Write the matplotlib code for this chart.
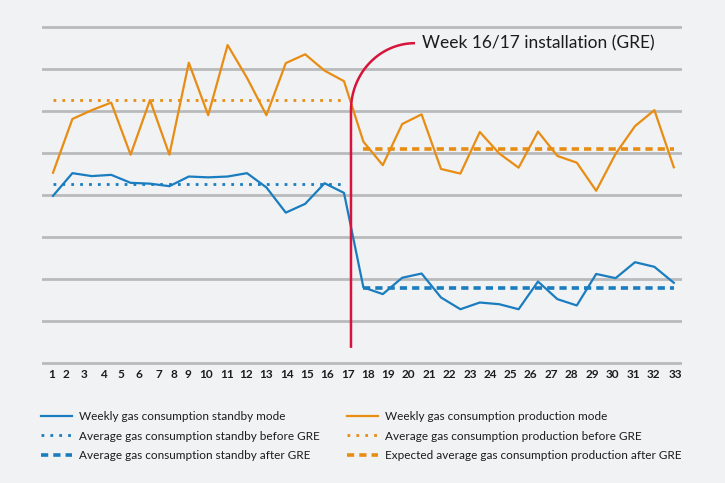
import numpy as np
import matplotlib
matplotlib.use("Agg")
import matplotlib.pyplot as plt
from matplotlib.lines import Line2D

# ---- data ----
weeks = list(range(1, 34))
standby = [3.98, 4.52, 4.45, 4.48, 4.29, 4.27, 4.21, 4.44, 4.42, 4.44, 4.52, 4.18,
           3.58, 3.79, 4.28, 4.05, 1.80, 1.64, 2.03, 2.13, 1.56, 1.28, 1.44, 1.40,
           1.28, 1.94, 1.52, 1.37, 2.12, 2.02, 2.40, 2.29, 1.91]
production = [4.53, 5.81, 6.02, 6.20, 4.96, 6.26, 4.96, 7.15, 5.90, 7.57, 6.79, 5.90,
              7.14, 7.35, 6.96, 6.71, 5.27, 4.71, 5.69, 5.92, 4.62, 4.51, 5.50, 4.99,
              4.65, 5.51, 4.93, 4.77, 4.10, 4.98, 5.64, 6.02, 4.66]
avg_standby_before = 4.25
avg_standby_after = 1.78
avg_prod_before = 6.26
avg_prod_after = 5.09
tick_labels = [str(w) for w in weeks]
annotation = "Week 16/17 installation (GRE)"
legend_labels = ["Weekly gas consumption standby mode",
                 "Average gas consumption standby before GRE",
                 "Average gas consumption standby after GRE",
                 "Weekly gas consumption production mode",
                 "Average gas consumption production before GRE",
                 "Expected average gas consumption production after GRE"]

# ---- style ----
BG = "#f1f2f4"
BLUE = "#1a7dbf"
ORANGE = "#e88d14"
RED = "#d8143c"
GRID = "#b9babc"
TXT = "#1c1c1c"
plt.rcParams['font.family'] = ['Lato', 'DejaVu Sans']

W, H = 725, 483
fig = plt.figure(figsize=(W / 100, H / 100), dpi=100, facecolor=BG)

# axes placement (pixels)
px_left, px_right = 41.7, 681.7
ymin, ymax = -0.1, 8.1
px_per_unit = 42.0
px_y0 = 363.0  # pixel row of value 0
top_px = px_y0 - ymax * px_per_unit
bot_px = px_y0 - ymin * px_per_unit
ax = fig.add_axes([px_left / W, 1 - bot_px / H, (px_right - px_left) / W, (bot_px - top_px) / H])
ax.set_facecolor(BG)
x0_px, dx_px = 53.0, 19.4
xmin = 1 + (px_left - x0_px) / dx_px
xmax = 1 + (px_right - x0_px) / dx_px
ax.set_xlim(xmin, xmax)
ax.set_ylim(ymin, ymax)

for s in ax.spines.values():
    s.set_visible(False)
ax.set_yticks(range(0, 9))
ax.set_yticklabels([])
ax.tick_params(axis='y', length=0)
ax.yaxis.grid(True, color=GRID, linewidth=2.0)
ax.set_axisbelow(True)

# tick label positions (as placed in the original layout, in pixel columns)
tick_px = [52, 66, 84, 103, 121, 139, 159, 174, 188, 206, 227, 246, 266, 287, 307, 327,
           348, 368, 388, 408, 429, 449, 470, 490, 510, 530, 551, 571, 592, 612, 633, 653, 675]
tick_pos = [1 + (p - x0_px) / dx_px for p in tick_px]
ax.set_xticks(tick_pos)
ax.set_xticklabels(tick_labels, fontsize=8.5, fontweight='bold', color=TXT)
ax.tick_params(axis='x', length=0, pad=1.5)

lw = 1.6
ax.plot(weeks, standby, color=BLUE, lw=lw, zorder=3)
ax.plot(weeks, production, color=ORANGE, lw=lw, zorder=3)

pre = [w for w in weeks if w <= 16]
post = [w for w in weeks if w >= 17]
ax.plot([pre[0], pre[-1]], [avg_standby_before] * 2, color=BLUE, lw=2.0,
        linestyle=(0, (1, 2.2)), zorder=2)
ax.plot([pre[0], pre[-1]], [avg_prod_before] * 2, color=ORANGE, lw=2.0,
        linestyle=(0, (1, 2.2)), zorder=2)
ax.plot([post[0], post[-1]], [avg_standby_after] * 2, color=BLUE, lw=2.6,
        linestyle=(0, (2.0, 1.4)), zorder=2)
ax.plot([post[0], post[-1]], [avg_prod_after] * 2, color=ORANGE, lw=2.6,
        linestyle=(0, (2.0, 1.4)), zorder=2)

# red installation marker with curved leader
gre_x = 16.36
cx, cy, rx, ry = 19.66, 6.02, 3.30, 1.595
t = np.linspace(np.pi, np.pi / 2, 60)
arc_x = cx + rx * np.cos(t)
arc_y = cy + ry * np.sin(t)
rx_all = np.concatenate([[gre_x], arc_x])
ry_all = np.concatenate([[0.36], arc_y])
ax.plot(rx_all, ry_all, color=RED, lw=1.8, zorder=4, solid_capstyle='butt')
ax.text(cx + 0.35, cy + ry, annotation, fontsize=12.5, color=TXT, va='center', ha='left')

# legends
def handle(color, ls, lw_):
    return Line2D([], [], color=color, linestyle=ls, lw=lw_)

h_left = [handle(BLUE, '-', 1.6), handle(BLUE, (0, (1, 2.2)), 2.0), handle(BLUE, (0, (2.0, 1.4)), 2.6)]
h_right = [handle(ORANGE, '-', 1.6), handle(ORANGE, (0, (1, 2.2)), 2.0), handle(ORANGE, (0, (2.0, 1.4)), 2.6)]
common = dict(frameon=False, fontsize=8.5, handlelength=2.6, handletextpad=0.6,
              labelspacing=0.72, loc='upper left', borderaxespad=0, borderpad=0,
              labelcolor=TXT)
fig.legend(h_left, legend_labels[:3], bbox_to_anchor=(41 / W, 1 - 411 / H), **common)
fig.legend(h_right, legend_labels[3:], bbox_to_anchor=(347 / W, 1 - 411 / H), **common)

fig.savefig("out.png", dpi=100, facecolor=BG)
